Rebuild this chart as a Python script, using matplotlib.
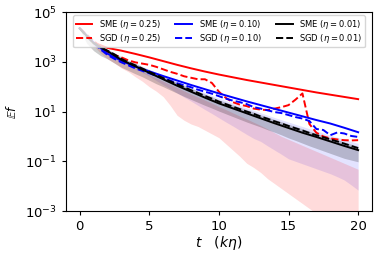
import numpy as np
import matplotlib
matplotlib.use("Agg")
import matplotlib.pyplot as plt

# time grids
t_sme = [0, 1, 2, 3, 4, 5, 6, 7, 8, 9, 10, 11, 12, 13, 14, 15, 16, 17, 18, 19, 20]
t_sgd = [0, 0.5, 1, 1.5, 2, 2.5, 3, 3.5, 4, 4.5, 5, 5.5, 6, 6.5, 7, 7.5, 8, 8.5, 9, 9.5,
         10, 10.5, 11, 11.5, 12, 12.5, 13, 13.5, 14, 14.5, 15, 15.5, 16, 16.5, 17, 17.5,
         18, 18.5, 19, 19.5, 20]

# log10 of E f
sme_025 = [4.35, 3.78, 3.56, 3.45, 3.32, 3.18, 3.03, 2.88, 2.74, 2.61, 2.49, 2.38, 2.27,
           2.17, 2.07, 1.97, 1.87, 1.77, 1.68, 1.59, 1.50]
sme_010 = [4.35, 3.78, 3.33, 3.04, 2.81, 2.62, 2.43, 2.25, 2.07, 1.90, 1.73, 1.57, 1.41,
           1.26, 1.11, 0.96, 0.81, 0.66, 0.52, 0.35, 0.17]
sme_001 = [4.35, 3.75, 3.43, 3.08, 2.82, 2.56, 2.30, 2.04, 1.80, 1.56, 1.33, 1.13, 0.93,
           0.73, 0.53, 0.34, 0.15, -0.02, -0.20, -0.38, -0.55]

sgd_025 = [4.35, 4.10, 3.85, 3.60, 3.40, 3.28, 3.18, 3.06, 2.98, 2.93, 2.88, 2.80, 2.70,
           2.60, 2.52, 2.42, 2.36, 2.30, 2.30, 2.15, 1.80, 1.55, 1.38, 1.28, 1.22, 1.12,
           1.08, 1.06, 1.12, 1.18, 1.26, 1.48, 1.73, 0.50, 0.15, 0.00, -0.08, -0.12,
           -0.15, -0.16, -0.15]
sgd_010 = [4.35, 4.05, 3.76, 3.50, 3.28, 3.12, 2.98, 2.86, 2.74, 2.64, 2.54, 2.44, 2.33,
           2.25, 2.14, 2.06, 1.98, 1.88, 1.80, 1.72, 1.62, 1.52, 1.44, 1.38, 1.30, 1.18,
           1.12, 1.05, 0.98, 0.94, 0.86, 0.78, 0.72, 0.62, 0.30, 0.26, 0.05, 0.16, 0.12,
           0.02, -0.02]
sgd_001 = [4.35, 4.02, 3.78, 3.58, 3.45, 3.30, 3.12, 2.98, 2.86, 2.73, 2.60, 2.48, 2.35,
           2.22, 2.10, 1.98, 1.86, 1.75, 1.63, 1.52, 1.40, 1.30, 1.20, 1.10, 1.00, 0.91,
           0.80, 0.71, 0.61, 0.52, 0.42, 0.33, 0.24, 0.14, 0.05, -0.03, -0.12, -0.20,
           -0.29, -0.38, -0.47]

# band edges (log10)
band025_lo = [4.35, 4.00, 3.65, 3.35, 3.12, 2.95, 2.75, 2.60, 2.40, 2.22, 2.00, 1.82, 1.60,
              1.25, 0.85, 0.65, 0.50, 0.40, 0.25, 0.10, -0.05, -0.30, -0.55, -0.80, -1.08,
              -1.25, -1.45, -1.70, -1.90, -2.10, -2.30, -2.50, -2.70, -2.90, -3.10, -3.30,
              -3.50, -3.70, -3.90, -4.10, -4.30]
band025_hi = [4.35, 4.00, 3.70, 3.48, 3.32, 3.18, 3.02, 2.88, 2.75, 2.62, 2.48, 2.35, 2.22,
              2.09, 1.96, 1.83, 1.70, 1.58, 1.46, 1.34, 1.20, 1.08, 0.95, 0.82, 0.70, 0.57,
              0.44, 0.30, 0.15, 0.00, -0.12, -0.24, -0.36, -0.48, -0.60, -0.72, -0.84, -0.96,
              -1.08, -1.20, -1.32]
band010_lo = [4.35, 4.02, 3.70, 3.48, 3.30, 3.15, 3.02, 2.88, 2.72, 2.57, 2.42, 2.25, 2.08,
              1.92, 1.75, 1.58, 1.42, 1.25, 1.08, 0.92, 0.75, 0.58, 0.42, 0.25, 0.08, -0.08,
              -0.20, -0.38, -0.55, -0.72, -0.90, -1.00, -1.10, -1.20, -1.30, -1.40, -1.50,
              -1.62, -1.75, -1.95, -2.16]
band010_hi = [4.35, 4.04, 3.80, 3.62, 3.50, 3.36, 3.20, 3.06, 2.95, 2.82, 2.70, 2.58, 2.46,
              2.34, 2.22, 2.10, 1.98, 1.87, 1.76, 1.65, 1.54, 1.44, 1.34, 1.24, 1.14, 1.05,
              0.95, 0.86, 0.76, 0.67, 0.58, 0.49, 0.40, 0.31, 0.22, 0.14, 0.05, -0.03,
              -0.11, -0.20, -0.28]
band001_lo = [4.35, 3.75, 3.45, 3.25, 3.12, 2.95, 2.78, 2.65, 2.52, 2.40, 2.26, 2.12, 2.00,
              1.87, 1.74, 1.61, 1.49, 1.37, 1.25, 1.14, 1.02, 0.91, 0.80, 0.69, 0.58, 0.48,
              0.38, 0.27, 0.17, 0.06, -0.06, -0.16, -0.27, -0.38, -0.48, -0.58, -0.68, -0.78,
              -0.88, -0.95, -1.02]
band001_hi = [4.35, 4.06, 3.82, 3.63, 3.50, 3.36, 3.19, 3.05, 2.93, 2.80, 2.67, 2.55, 2.42,
              2.29, 2.17, 2.05, 1.93, 1.82, 1.70, 1.59, 1.47, 1.37, 1.27, 1.17, 1.07, 0.98,
              0.87, 0.78, 0.68, 0.59, 0.49, 0.40, 0.31, 0.21, 0.12, 0.04, -0.05, -0.13,
              -0.22, -0.31, -0.40]

labels_sme = [r"SME ($\eta=0.25$)", r"SME ($\eta=0.10$)", r"SME ($\eta=0.01$)"]
labels_sgd = [r"SGD ($\eta=0.25$)", r"SGD ($\eta=0.10$)", r"SGD ($\eta=0.01$)"]
colors = ["red", "blue", "black"]

def p(v):
    return 10.0 ** np.asarray(v)

fig = plt.figure(figsize=(3.82, 2.58), dpi=100)
ax = fig.add_axes([0.172, 0.182, 0.802, 0.771])

ax.fill_between(t_sgd, p(band010_lo), p(band010_hi), color="blue", alpha=0.11, lw=0)
ax.fill_between(t_sgd, p(band025_lo), p(band025_hi), color="red", alpha=0.14, lw=0)
ax.fill_between(t_sgd, p(band001_lo), p(band001_hi), color="black", alpha=0.2, lw=0)

handles = []
for sme, sgd, c, ls, lg in zip([sme_025, sme_010, sme_001], [sgd_025, sgd_010, sgd_001],
                               colors, labels_sme, labels_sgd):
    h1, = ax.plot(t_sme, p(sme), color=c, lw=1.4, label=ls)
    h2, = ax.plot(t_sgd, p(sgd), color=c, lw=1.4, ls="--", label=lg)
    handles += [h1, h2]

ax.set_yscale("log")
ax.set_ylim(1e-3, 1e5)
ax.set_xlim(-1, 21)
ax.set_yticks([1e-3, 1e-1, 1e1, 1e3, 1e5])
ax.minorticks_off()
ax.set_xticks([0, 5, 10, 15, 20])
ax.tick_params(labelsize=9.5, length=3)
ax.set_xlabel(r"$t \quad (k\eta)$", fontsize=10, labelpad=1)
ax.set_ylabel(r"$\mathbb{E}f$", fontsize=8.5, labelpad=4)

ax.legend(handles=handles, ncol=3, loc="upper center", fontsize=6, columnspacing=1.7,
          handletextpad=0.8, labelspacing=0.1, borderpad=0.3, borderaxespad=0.4,
          framealpha=0.8)

fig.savefig("out.png", dpi=100)
